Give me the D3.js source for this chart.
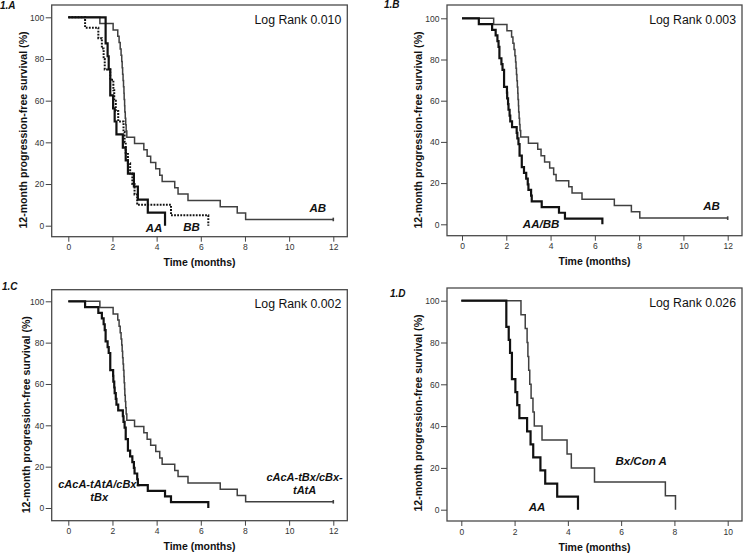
<!DOCTYPE html>
<html>
<head>
<meta charset="utf-8">
<script src="https://cdn.jsdelivr.net/npm/d3@7"></script>
<style>
  body { margin: 0; background: #fff; }
  svg { display: block; font-family: "Liberation Sans", Arial, sans-serif; }
  .tick text { font-size: 8.5px; fill: #333; }
  .tick line { stroke: #444; }
  .domain { display: none; }
</style>
</head>
<body>
<script>
// Kaplan-Meier steps (months, % surviving)
var aaTime = [0, 1.69, 1.78, 1.83, 1.9, 2.03, 2.1, 2.18, 2.47, 2.6, 2.7, 2.97, 3.15, 3.6, 4.38];
var aaSurv = [100, 87.5, 81.3, 75, 62.5, 56.3, 50, 43.8, 37.5, 31.3, 25, 18.8, 12.5, 6.3, 0];

var bbTime = [0, 0.76, 1.36, 1.52, 1.6, 1.65, 1.9, 2.04, 2.08, 2.15, 2.26, 2.5, 2.55, 2.6, 2.7, 2.8, 2.9, 3.0, 3.12, 4.65, 6.34];
var bbSurv = [100, 95, 90, 85, 80, 75, 70, 65, 60, 55, 50, 45, 40, 35, 30, 25, 20, 15, 10, 5, 0];

var abTime = [0, 1.43, 2.03, 2.24, 2.3, 2.35, 2.39, 2.42, 2.44, 2.46, 2.48, 2.5, 2.52, 2.53, 2.55, 2.56, 2.58, 2.6, 2.62,
  2.65, 3.0, 3.42, 3.57, 3.73, 3.96, 4.14, 4.25, 4.82, 4.97, 5.42, 6.88, 7.65, 8.03, 12];
var abSurv = [100, 97.0, 93.9, 90.9, 87.9, 84.8, 81.8, 78.8, 75.8, 72.7, 69.7, 66.7, 63.6, 60.6, 57.6, 54.5, 51.5, 48.5, 45.5,
  42.4, 39.4, 36.4, 33.3, 30.3, 27.3, 24.2, 21.2, 18.2, 15.2, 12.1, 9.1, 6.1, 3.0, 3.0];
var abCensor = [12];

var aabbTime = [0, 0.76, 1.36, 1.52, 1.6, 1.65, 1.69, 1.78, 1.83, 1.9, 2.03, 2.04, 2.08, 2.1, 2.15, 2.18, 2.26, 2.47, 2.5,
  2.55, 2.6, 2.7, 2.8, 2.9, 2.97, 3.0, 3.12, 3.15, 3.6, 4.38, 4.65, 6.34];
var aabbSurv = [100, 97.2, 94.4, 91.7, 88.9, 86.1, 80.6, 77.8, 75.0, 66.7, 63.9, 61.1, 58.3, 55.6, 52.8, 50.0, 47.2, 44.4, 41.7,
  38.9, 33.3, 27.8, 25.0, 22.2, 19.4, 16.7, 13.9, 11.1, 8.3, 5.6, 2.8, 0];

var bxTime = [0, 2.24, 2.4, 2.47, 2.5, 2.53, 2.57, 2.62, 2.69, 2.74, 3.03, 3.97, 4.13, 5.0, 7.66, 8.04];
var bxSurv = [100, 93.3, 86.7, 80, 73.3, 66.7, 60, 53.3, 46.7, 40, 33.3, 26.7, 20, 13.3, 6.7, 0];

var panelTags = ['1.A', '1.B', '1.C', '1.D'];
var logRanks = ['0.010', '0.003', '0.002', '0.026'];
var yTicks = [0, 20, 40, 60, 80, 100];
var xTicks12 = [0, 2, 4, 6, 8, 10, 12];
var xTicks10 = [0, 2, 4, 6, 8, 10];

function pairs(t, s) {
  return t.map(function(d, i) { return [d, s[i]]; });
}

var svg = d3.select('body').append('svg')
  .attr('width', 744)
  .attr('height', 557);

var thin = { stroke: '#404040', width: 1.5, dash: null };
var thick = { stroke: '#111', width: 2.2, dash: null };
var dotted = { stroke: '#111', width: 2, dash: '1.8,1.3' };

// frame box, data range, tag spot and curve labels (label spots in data units)
var panels = [
  { box: [51.7, 5, 347.3, 236.7], x0: 68.3, x1: 333.3, y100: 17.3, y0: 225.7, xmax: 12, ticks: xTicks12,
    tag: [0, 8.5], ylab: 23.5,
    curves: [ { d: pairs(abTime, abSurv), st: thin, censor: true },
              { d: pairs(bbTime, bbSurv), st: dotted },
              { d: pairs(aaTime, aaSurv), st: thick } ],
    labels: [ { t: ['AA'], x: 3.88, y: -3.0 }, { t: ['BB'], x: 5.58, y: -2.6 }, { t: ['AB'], x: 11.3, y: 6.6 } ] },
  { box: [447, 5, 742, 235.7], x0: 462, x1: 727.7, y100: 18.3, y0: 224.3, xmax: 12, ticks: xTicks12,
    tag: [384, 8], ylab: 418.7,
    curves: [ { d: pairs(abTime, abSurv), st: thin, censor: true },
              { d: pairs(aabbTime, aabbSurv), st: thick } ],
    labels: [ { t: ['AA/BB'], x: 3.57, y: -1.8 }, { t: ['AB'], x: 11.27, y: 6.9 } ] },
  { box: [51.7, 289.7, 347.3, 520.7], x0: 68.3, x1: 333.3, y100: 301.3, y0: 508, xmax: 12, ticks: xTicks12,
    tag: [2, 289.5], ylab: 26,
    curves: [ { d: pairs(abTime, abSurv), st: thin, censor: true },
              { d: pairs(aabbTime, aabbSurv), st: thick } ],
    labels: [ { t: ['cAcA-tAtA/cBx-', 'tBx'], x: 1.4, y: 9.7 }, { t: ['cAcA-tBx/cBx-', 'tAtA'], x: 10.7, y: 13.1 } ] },
  { box: [447, 288, 742, 521], x0: 461.3, x1: 727.7, y100: 300.7, y0: 509.7, xmax: 10, ticks: xTicks10,
    tag: [390, 297], ylab: 417.8,
    curves: [ { d: pairs(bxTime, bxSurv), st: thin },
              { d: pairs(aaTime, aaSurv), st: thick } ],
    labels: [ { t: ['Bx/Con A'], x: 6.75, y: 21.4 }, { t: ['AA'], x: 2.84, y: -0.6 } ] }
];

panels.forEach(function(p, i) {
  var g = svg.append('g');
  var b = p.box;

  var x = d3.scaleLinear().domain([0, p.xmax]).range([p.x0, p.x1]);
  var y = d3.scaleLinear().domain([0, 100]).range([p.y0, p.y100]);

  g.append('rect')
    .attr('x', b[0]).attr('y', b[1])
    .attr('width', b[2] - b[0]).attr('height', b[3] - b[1])
    .attr('fill', 'none')
    .attr('stroke', '#4a4a4a')
    .attr('stroke-width', 1.3);

  g.append('g')
    .attr('transform', 'translate(' + b[0] + ',0)')
    .call(d3.axisLeft(y).tickValues(yTicks).tickSize(6).tickPadding(1.5));

  g.append('g')
    .attr('transform', 'translate(0,' + b[3] + ')')
    .call(d3.axisBottom(x).tickValues(p.ticks).tickSize(5).tickPadding(2.5));

  var line = d3.line()
    .x(function(d) { return x(d[0]); })
    .y(function(d) { return y(d[1]); })
    .curve(d3.curveStepAfter);

  p.curves.forEach(function(c) {
    g.append('path')
      .datum(c.d)
      .attr('d', line)
      .attr('fill', 'none')
      .attr('stroke', c.st.stroke)
      .attr('stroke-width', c.st.width)
      .attr('stroke-dasharray', c.st.dash);
    if (c.censor) {
      abCensor.forEach(function(t) {
        var last = c.d[c.d.length - 1][1];
        g.append('line')
          .attr('x1', x(t)).attr('x2', x(t))
          .attr('y1', y(last) - 1.8).attr('y2', y(last) + 1.8)
          .attr('stroke', c.st.stroke)
          .attr('stroke-width', 1.6);
      });
    }
  });

  p.labels.forEach(function(l) {
    l.t.forEach(function(s, k) {
      g.append('text')
        .attr('x', x(l.x))
        .attr('y', y(l.y) + k * 13.5)
        .attr('text-anchor', 'middle')
        .style('font-size', l.t.length > 1 ? '11px' : '11.5px')
        .style('font-weight', 'bold')
        .style('font-style', 'italic')
        .attr('fill', '#111')
        .text(s);
    });
  });

  g.append('text')
    .attr('x', b[2] - 6)
    .attr('y', b[1] + 18.5)
    .attr('text-anchor', 'end')
    .style('font-size', '12.3px')
    .attr('fill', '#111')
    .text('Log Rank ' + logRanks[i]);

  g.append('text')
    .attr('x', p.tag[0])
    .attr('y', p.tag[1])
    .style('font-size', '10px')
    .style('font-weight', 'bold')
    .style('font-style', 'italic')
    .attr('fill', '#111')
    .text(panelTags[i]);

  g.append('text')
    .attr('x', (b[0] + b[2]) / 2)
    .attr('y', b[3] + 29.5)
    .attr('text-anchor', 'middle')
    .style('font-size', '10.5px')
    .style('font-weight', 'bold')
    .attr('fill', '#111')
    .text('Time (months)');

  g.append('text')
    .attr('transform', 'translate(' + p.ylab + ',' + (b[1] + 125) + ')rotate(-90)')
    .attr('dy', '0.35em')
    .attr('text-anchor', 'middle')
    .style('font-size', '10.6px')
    .style('font-weight', 'bold')
    .attr('fill', '#111')
    .text('12-month progression-free survival (%)');
});
</script>
</body>
</html>
